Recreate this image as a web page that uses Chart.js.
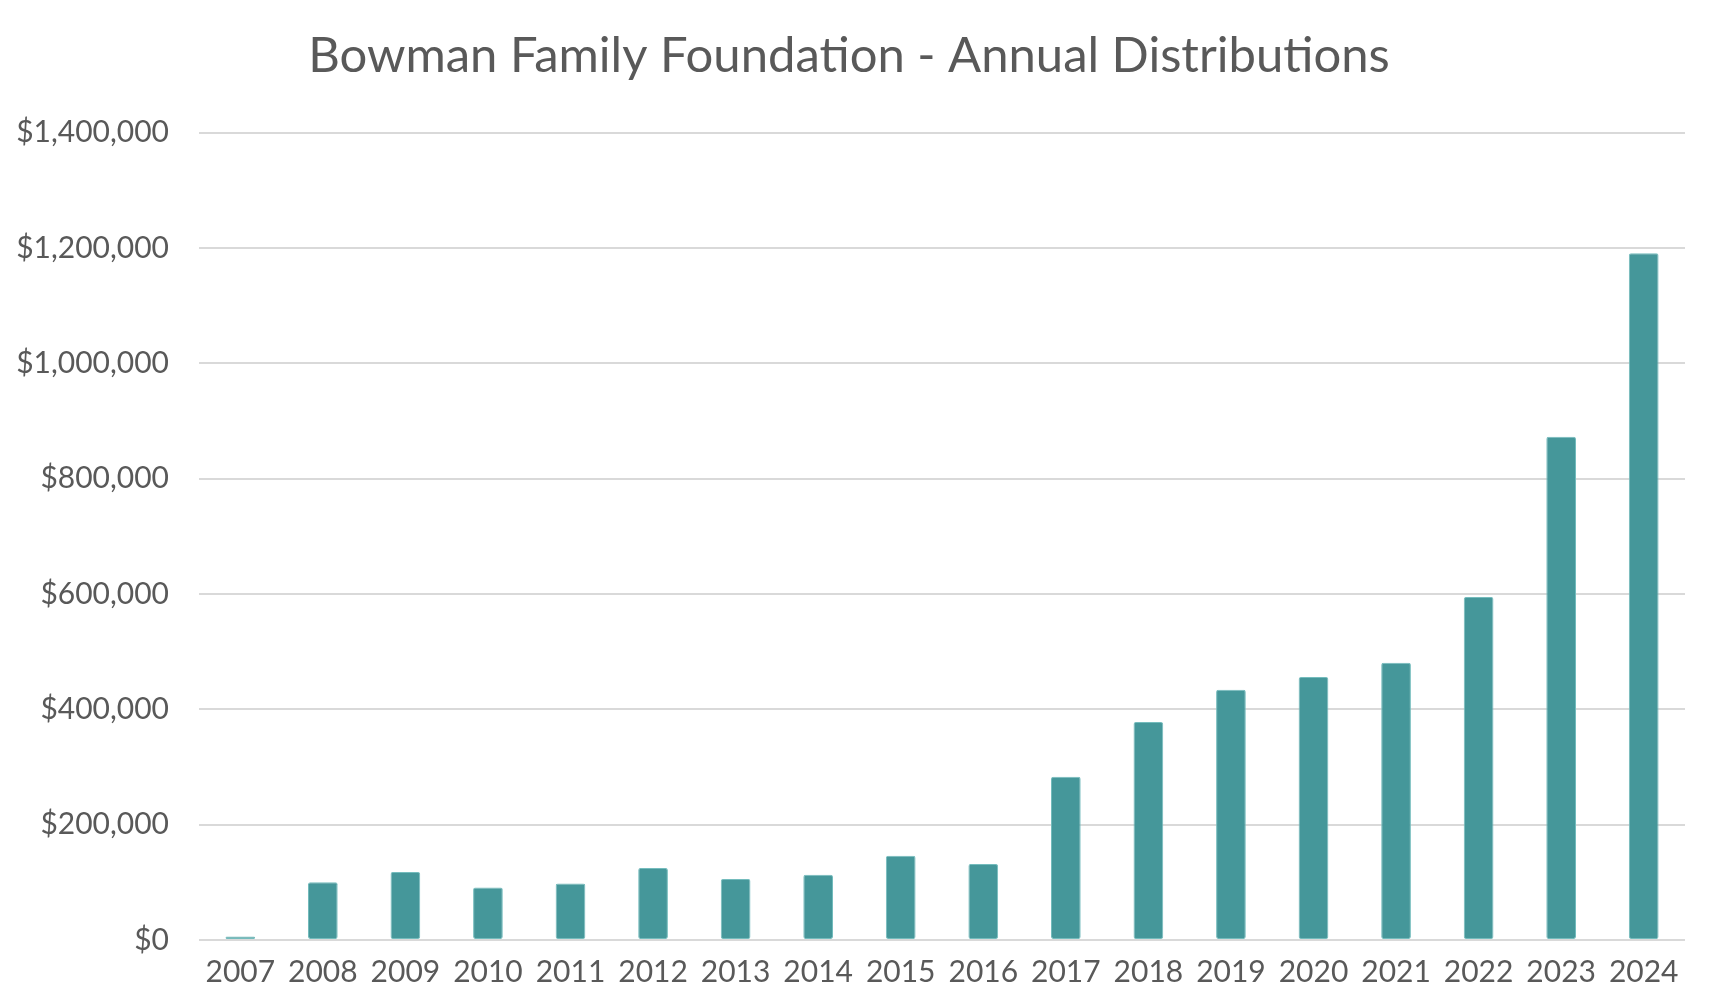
<!DOCTYPE html>
<html lang="en">
<head>
    <meta charset="UTF-8">
    <title>Bowman Family Foundation - Annual Distributions</title>
    <script src="https://cdn.jsdelivr.net/npm/chart.js"></script>
    <style>
        html, body { margin: 0; padding: 0; background: #fff; }
        #wrap { width: 1718px; height: 1004px; }
    </style>
</head>
<body>
<div id="wrap"><canvas id="grafico"></canvas></div>

<script>
    const anos = ['2007', '2008', '2009', '2010', '2011', '2012', '2013', '2014', '2015',
                  '2016', '2017', '2018', '2019', '2020', '2021', '2022', '2023', '2024'];
    const distribuicoes = [6000, 100000, 118000, 91000, 98000, 125000, 106000, 113000, 146000,
                           132000, 283000, 378000, 434000, 456000, 481000, 595000, 873000, 1191000];
    const eixoY = [0, 200000, 400000, 600000, 800000, 1000000, 1200000, 1400000];

    const corTexto = '#595959';

    new Chart(document.getElementById('grafico'), {
        type: 'bar',
        data: {
            labels: anos,
            datasets: [{
                label: 'Annual Distributions',
                data: distribuicoes,
                backgroundColor: '#45979a',
                borderColor: '#74bcbd',
                borderWidth: 1,
                borderRadius: 2,
                borderSkipped: false,
                categoryPercentage: 1,
                barPercentage: 0.36
            }]
        },
        options: {
            responsive: true,
            maintainAspectRatio: false,
            animation: false,
            layout: { padding: { left: 13, right: 33, top: 0, bottom: 8 } },
            plugins: {
                legend: { display: false },
                tooltip: { enabled: false },
                title: {
                    display: true,
                    text: 'Bowman Family Foundation - Annual Distributions',
                    color: corTexto,
                    font: { family: 'Lato', size: 49, weight: 'normal' },
                    padding: { top: 27, bottom: 47 }
                }
            },
            scales: {
                x: {
                    grid: { display: false },
                    border: { display: false },
                    ticks: {
                        color: corTexto,
                        font: { family: 'Lato', size: 30 },
                        padding: 6,
                        maxRotation: 0,
                        autoSkip: false
                    }
                },
                y: {
                    min: 0,
                    max: 1400000,
                    afterBuildTicks: (axis) => { axis.ticks = eixoY.map(v => ({ value: v })); },
                    afterFit: (axis) => { axis.width = 186; },
                    grid: { color: '#d9d9d9', lineWidth: 2, drawTicks: false },
                    border: { display: false },
                    ticks: {
                        color: corTexto,
                        font: { family: 'Lato', size: 30 },
                        padding: 30,
                        callback: (v) => '$' + Number(v).toLocaleString('en-US')
                    }
                }
            }
        }
    });
</script>
</body>
</html>
